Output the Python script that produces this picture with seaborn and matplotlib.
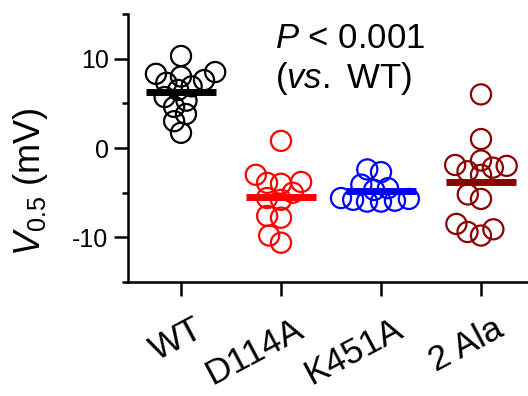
import numpy as np
import pandas as pd
import seaborn as sns
import matplotlib
matplotlib.use("Agg")
import matplotlib.pyplot as plt
from matplotlib.ticker import MultipleLocator
from matplotlib.transforms import ScaledTranslation

# ---- data ----
groups = ["WT", "D114A", "K451A", "2 Ala"]
wt = [10.3, 8.5, 8.3, 8.0, 7.6, 7.3, 6.9, 6.5, 5.7, 5.3, 4.6, 3.8, 3.0, 1.7]
d114a = [0.8, -3.0, -3.8, -3.9, -4.0, -5.0, -5.6, -5.8, -7.6, -7.8, -9.8, -10.6]
k451a = [-2.4, -2.7, -4.1, -4.5, -4.7, -5.6, -5.7, -5.8, -5.9, -6.0, -6.0]
ala2 = [6.0, 1.0, -1.4, -1.9, -2.0, -2.2, -2.6, -3.0, -5.2, -5.7, -8.5, -9.1, -9.4, -9.8]
colors = ["#000000", "#FF0000", "#0000FF", "#8B0000"]
yticks = [-10, 0, 10]

values = [wt, d114a, k451a, ala2]
df = pd.DataFrame({
    "group": [g for g, v in zip(groups, values) for _ in v],
    "v": [x for v in values for x in v],
})

sns.set_theme(style="ticks")
plt.rcParams["font.family"] = ["Liberation Sans", "DejaVu Sans"]
plt.rcParams["mathtext.fontset"] = "custom"
plt.rcParams["mathtext.rm"] = "Liberation Sans"
plt.rcParams["mathtext.it"] = "Liberation Sans:italic"
plt.rcParams["axes.unicode_minus"] = False
for k in ["text.color", "axes.labelcolor", "xtick.color", "ytick.color",
          "axes.edgecolor", "xtick.labelcolor", "ytick.labelcolor"]:
    plt.rcParams[k] = "black"

fig = plt.figure(figsize=(5.28, 3.96), dpi=100)
ax = fig.add_axes([128 / 528, 1 - 282 / 396, 400 / 528, 268 / 396])

sns.swarmplot(data=df, x="group", y="v", hue="group", order=groups,
              hue_order=groups, palette=colors, size=8.0, linewidth=1.6,
              legend=False, ax=ax, zorder=2)
sns.pointplot(data=df, x="group", y="v", hue="group", order=groups,
              hue_order=groups, palette=colors, errorbar=None, marker="_",
              markersize=50, markeredgewidth=5, linestyle="none",
              legend=False, ax=ax, zorder=3)

ax.set_xlim(-0.53, 3.47)
ax.set_ylim(-15, 15)
ax.yaxis.set_major_locator(MultipleLocator(10))
ax.yaxis.set_minor_locator(MultipleLocator(5))
ax.set_yticks(yticks)
ax.tick_params(axis="both", which="major", length=10, width=1.8,
               direction="out", labelsize=18, color="black", pad=4)
ax.tick_params(axis="x", which="major", labelsize=25.5)
ax.tick_params(axis="y", which="minor", length=4, width=1.8, color="black")
for s in ["top", "right"]:
    ax.spines[s].set_visible(False)
for s in ["left", "bottom"]:
    ax.spines[s].set_linewidth(1.8)
    ax.spines[s].set_color("black")

ax.set_xlabel("")
ax.set_ylabel(r"$V_{\mathrm{0.5}}$ (mV)", fontsize=26)
ax.yaxis.set_label_coords((50 - 128) / 400, (282 - 182) / 268)

for lab in ax.get_xticklabels():
    lab.set_rotation(28)
    lab.set_ha("right")
    lab.set_va("top")
    lab.set_rotation_mode("anchor")
    lab.set_transform(lab.get_transform() + ScaledTranslation(0.12, -0.11, fig.dpi_scale_trans))

fig.text(275 / 528, 1 - 48 / 396, r"$P$ < 0.001", fontsize=25, va="baseline", ha="left")
fig.text(275 / 528, 1 - 88 / 396, r"($vs.$ WT)", fontsize=25, va="baseline", ha="left")

# compute swarm layout with small markers, then enlarge markers
fig.canvas.draw()
for c in ax.collections:
    if "draw" in c.__dict__:
        del c.draw
    fc = c.get_facecolor()
    if len(fc):
        c.set_edgecolor(fc[0])
    c.set_facecolor("none")
    c.set_sizes([14.5 ** 2])
    c.set_linewidth(1.6)

fig.savefig("out.png", dpi=100)
